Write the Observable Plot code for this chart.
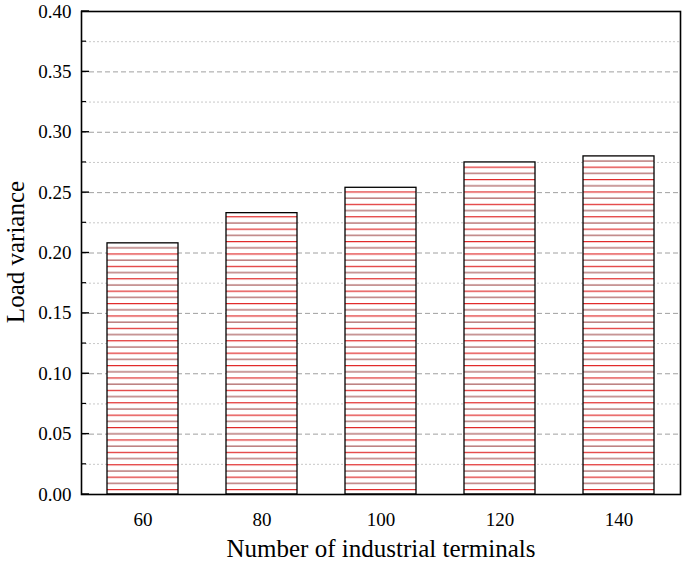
<!DOCTYPE html>
<html>
<head>
<meta charset="utf-8">
<script src="https://cdn.jsdelivr.net/npm/d3@7"></script>
<script src="https://cdn.jsdelivr.net/npm/@observablehq/plot@0.6"></script>
<style>
  body { margin: 0; background: #fff; }
  #chart { width: 685px; height: 564px; }
  svg { font-family: "Liberation Serif", "Times New Roman", serif; }
</style>
</head>
<body>
<div id="chart"></div>
<script>
const terminals = ["60", "80", "100", "120", "140"];
const variance = [0.208, 0.233, 0.254, 0.275, 0.280];
const majorTicks = [0, 0.05, 0.10, 0.15, 0.20, 0.25, 0.30, 0.35, 0.40];
const minorTicks = [0.025, 0.075, 0.125, 0.175, 0.225, 0.275, 0.325, 0.375];
const xTitle = "Number of industrial terminals";
const yTitle = "Load variance";

const data = terminals.map((t, i) => ({t, v: variance[i]}));
const innerMajor = majorTicks.filter(d => d > 0 && d < 0.4);

function tickMarks(values, len, width) {
  return Plot.tickY(values, {y: d => d,
    render: (index, scales, vals, dims) => {
      const g = d3.create("svg:g");
      for (const i of index) {
        const y = vals.y[i];
        g.append("line").attr("x1", dims.marginLeft).attr("x2", dims.marginLeft + len)
          .attr("y1", y).attr("y2", y).attr("stroke", "#000").attr("stroke-width", width);
      }
      return g.node();
    }});
}

const plot = Plot.plot({
  width: 685,
  height: 564,
  marginLeft: 81,
  marginRight: 5,
  marginTop: 11,
  marginBottom: 70,
  style: {fontFamily: '"Liberation Serif", "Times New Roman", serif', background: "#fff", color: "#000"},
  x: {domain: terminals, paddingInner: 0.4, paddingOuter: 0.2, label: null},
  y: {domain: [0, 0.4], label: null},
  marks: [
    Plot.ruleY(minorTicks, {stroke: "#c8c8c8", strokeWidth: 1, strokeDasharray: "2,2"}),
    Plot.ruleY(innerMajor, {stroke: "#a0a0a0", strokeWidth: 1, strokeDasharray: "5,3"}),
    Plot.barY(data, {x: "t", y: "v", fill: "url(#hatch)", stroke: "#000", strokeWidth: 1.3}),
    Plot.frame({stroke: "#000", strokeWidth: 1.6}),
    tickMarks(majorTicks, 8, 1.4),
    tickMarks(minorTicks, 5, 1.2),
    Plot.axisY({ticks: majorTicks, tickFormat: d3.format(".2f"), tickSize: 0, tickPadding: 10, fontSize: 19, label: null}),
    Plot.axisX({tickSize: 0, tickPadding: 18, fontSize: 19, label: null})
  ]
});

const svg = d3.select(plot);
// axis titles
svg.append("text")
  .attr("x", 381).attr("y", 557)
  .attr("text-anchor", "middle")
  .attr("font-size", 25).attr("fill", "#000")
  .text(xTitle);
svg.append("text")
  .attr("transform", `translate(24, 252) rotate(-90)`)
  .attr("text-anchor", "middle")
  .attr("font-size", 25).attr("fill", "#000")
  .text(yTitle);

// hatch pattern definition
const defs = svg.insert("defs", ":first-child");
const pat = defs.append("pattern")
  .attr("id", "hatch")
  .attr("patternUnits", "userSpaceOnUse")
  .attr("x", 0).attr("y", 494 - 12.4 * 40 - 5)
  .attr("width", 12).attr("height", 12.4);
pat.append("rect").attr("width", 12).attr("height", 12.4).attr("fill", "#fff");
pat.append("line").attr("x1", 0).attr("x2", 12).attr("y1", 0.6).attr("y2", 0.6)
  .attr("stroke", "#e02828").attr("stroke-width", 1.2);
pat.append("line").attr("x1", 0).attr("x2", 12).attr("y1", 6.8).attr("y2", 6.8)
  .attr("stroke", "#a85858").attr("stroke-width", 1.2);

document.getElementById("chart").appendChild(plot);
</script>
</body>
</html>
